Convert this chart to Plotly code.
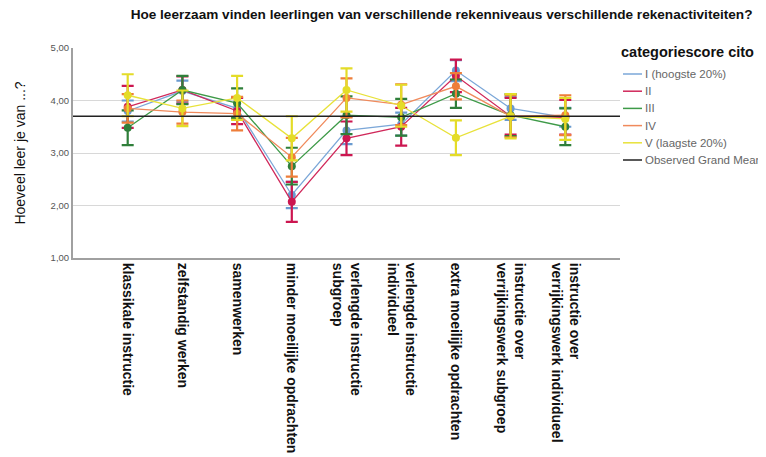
import plotly.graph_objects as go

categories = [
    "klassikale instructie",
    "zelfstandig werken",
    "samenwerken",
    "minder moeilijke opdrachten",
    "verlengde instructie<br>subgroep",
    "verlengde instructie<br>individueel",
    "extra moeilijke opdrachten",
    "instructie over<br>verrijkingswerk subgroep",
    "instructie over<br>verrijkingswerk individueel",
]

series_names = ["I (hoogste 20%)", "II", "III", "IV", "V (laagste 20%)"]
grand_mean_name = "Observed Grand Mean"
legend_title = "categoriescore cito"

mean_I = [3.80, 4.18, 3.85, 2.20, 3.43, 3.55, 4.57, 3.85, 3.68]
err_I = [0.20, 0.20, 0.20, 0.25, 0.26, 0.22, 0.20, 0.22, 0.18]
mean_II = [3.88, 4.20, 3.80, 2.07, 3.28, 3.50, 4.47, 3.70, 3.68]
err_II = [0.40, 0.26, 0.25, 0.38, 0.32, 0.36, 0.31, 0.35, 0.33]
mean_III = [3.48, 4.20, 3.95, 2.75, 3.72, 3.68, 4.13, 3.72, 3.50]
err_III = [0.33, 0.27, 0.28, 0.35, 0.36, 0.35, 0.27, 0.40, 0.35]
mean_IV = [3.85, 3.78, 3.75, 2.92, 4.05, 3.92, 4.27, 3.70, 3.72]
err_IV = [0.27, 0.22, 0.32, 0.37, 0.37, 0.39, 0.25, 0.40, 0.38]
mean_V = [4.10, 3.85, 4.05, 3.28, 4.20, 3.90, 3.29, 3.70, 3.65]
err_V = [0.40, 0.34, 0.42, 0.42, 0.41, 0.40, 0.33, 0.42, 0.40]

grand_mean = 3.70

y_tickvals = [1, 2, 3, 4, 5]
y_ticktext = ["1,00", "2,00", "3,00", "4,00", "5,00"]

means = [mean_I, mean_II, mean_III, mean_IV, mean_V]
errs = [err_I, err_II, err_III, err_IV, err_V]
line_colors = ["#7BA7D8", "#D0285A", "#3E9A48", "#F08A5C", "#E8E23A"]
mark_colors = ["#6A9BD0", "#CC1650", "#2F7F3A", "#EE7E3A", "#E4DC28"]
grand_color = "#222222"

# plot-area geometry (pixels) used for placing the hand-drawn legend
W, H = 766, 457
ML, MR, MT, MB = 65, 154, 40, 207
PW, PH = W - ML - MR, H - MT - MB


def px_x(px):
    return (px - ML) / PW


def px_y(py):
    return (H - MB - py) / PH


fig = go.Figure()

for name, m, e, lc, mc in zip(series_names, means, errs, line_colors, mark_colors):
    fig.add_trace(go.Scatter(
        x=categories, y=m, mode="lines+markers", name=name,
        line=dict(color=lc, width=1.3),
        marker=dict(color=mc, size=8),
        error_y=dict(type="data", array=e, visible=True, color=mc,
                     thickness=2.2, width=6),
        showlegend=False, hoverinfo="skip",
    ))

fig.add_hline(y=grand_mean, line=dict(color=grand_color, width=1.5), layer="above")

# legend (hand placed to match spacing of the reference)
fig.add_annotation(
    xref="paper", yref="paper", x=px_x(611), y=px_y(44),
    xanchor="left", yanchor="middle", showarrow=False,
    text="<b>" + legend_title + "</b>", font=dict(size=14.5, color="#111"),
)
legend_labels = series_names + [grand_mean_name]
legend_colors = line_colors + [grand_color]
for i, (lab, col) in enumerate(zip(legend_labels, legend_colors)):
    yy = 66 + i * 17.2
    fig.add_shape(
        type="line", xref="paper", yref="paper",
        x0=px_x(615), x1=px_x(634), y0=px_y(yy), y1=px_y(yy),
        line=dict(color=col, width=1.5),
    )
    fig.add_annotation(
        xref="paper", yref="paper", x=px_x(635), y=px_y(yy),
        xanchor="left", yanchor="middle", showarrow=False,
        text=lab, font=dict(size=11.5, color="#666"),
    )

fig.update_layout(
    width=W, height=H,
    margin=dict(l=ML, r=MR, t=MT, b=MB),
    paper_bgcolor="white", plot_bgcolor="white",
    showlegend=False,
    font=dict(family="Liberation Sans, Arial, sans-serif", color="#222"),
    title=dict(
        text="<b>Hoe leerzaam vinden leerlingen van verschillende rekenniveaus verschillende rekenactiviteiten?</b>",
        font=dict(size=13.6, color="#111"),
        x=0.566, xanchor="center", xref="container",
        y=0.997, yanchor="top", yref="container",
    ),
    xaxis=dict(
        type="category", range=[-1, 9],
        tickangle=90, tickfont=dict(size=14, color="#111", family="Liberation Sans, Arial, sans-serif"),
        showgrid=False, showline=True, linecolor="#A0A0A0", linewidth=2,
        ticks="", zeroline=False,
    ),
    yaxis=dict(
        range=[1, 5], tickvals=y_tickvals, ticktext=y_ticktext,
        tickfont=dict(size=9.5, color="#555"),
        showgrid=True, gridcolor="#D8D8D8", gridwidth=1,
        showline=True, linecolor="#A0A0A0", linewidth=2,
        ticks="", zeroline=False,
        title=dict(text="Hoeveel leer je van ...?", font=dict(size=14, color="#111"),
                   standoff=22),
    ),
)

fig.update_xaxes(tickfont=dict(weight="bold"))

fig.write_html("out.html")
